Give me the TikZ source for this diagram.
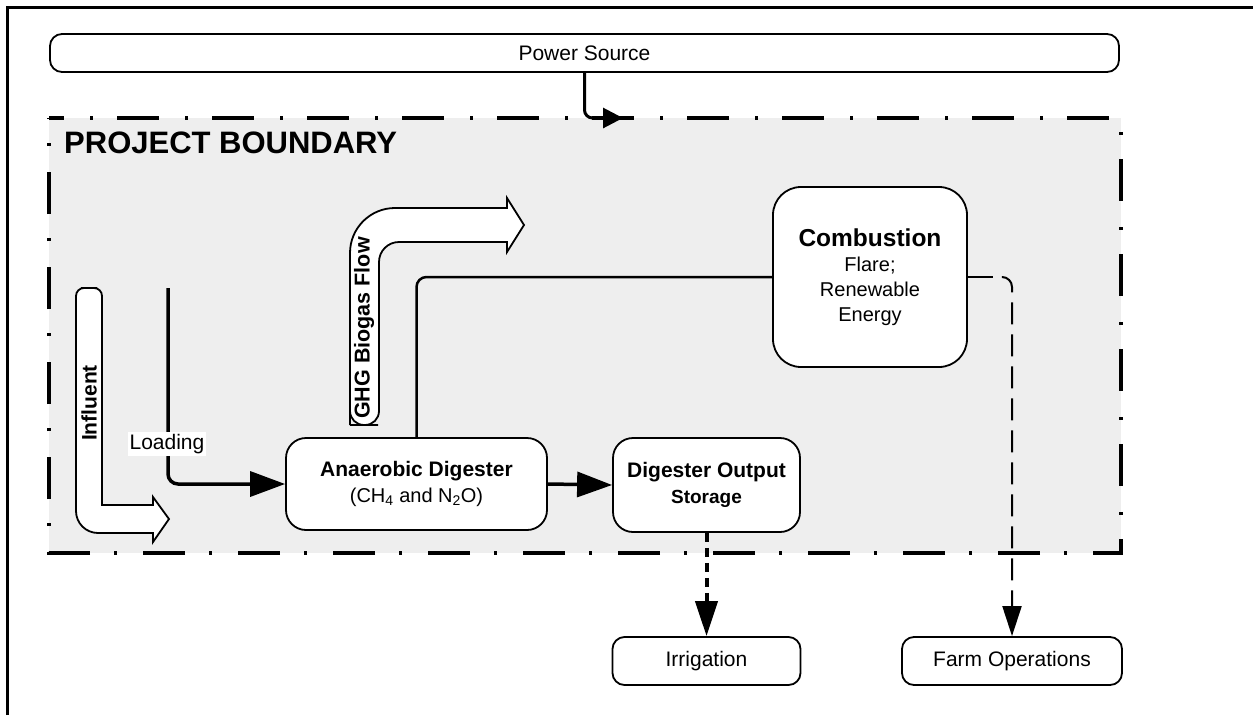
\documentclass[tikz,border=0pt]{standalone}
\usepackage{fontspec}
\setmainfont{Liberation Sans}
\usetikzlibrary{arrows.meta}
\definecolor{bndgray}{HTML}{EEEEEE}

\begin{document}
\begin{tikzpicture}[x=1pt, y=-1pt,
        box/.style={rectangle, draw=black, fill=white, line width=1.8pt, inner sep=0pt, align=center},
        flow/.style={draw=black, fill=white, line width=1.8pt},
        link/.style={black, line width=3.5pt},
        bigtip/.style={-{Triangle[length=35pt, width=25pt]}},
        txt/.style={font=\fontsize{21}{26}\selectfont}]
            \useasboundingbox (0,0) rectangle (1253,715);

            % Frame
            \draw[line width=3pt] (7,715) -- (7,7) -- (1253,7);

            % Project boundary
            \draw[line width=4.5pt, fill=bndgray, dash pattern=on 42pt off 26pt on 3pt off 24pt, dash phase=27pt]
                (49,118) -- (1121,118) -- (1121,553) -- (49,553) -- cycle;
            \node[anchor=west, inner sep=0pt, font=\bfseries\fontsize{31}{31}\selectfont] (bndlabel) at (64,143)
                {PROJECT BOUNDARY};

            % Power source
            \node[box, txt, minimum width=1069pt, minimum height=38pt, rounded corners=12pt] (power) at (584.5,53)
                {Power Source};
            \coordinate (pin) at (623,118);
            \draw[line width=3pt, rounded corners=8pt, -{Triangle[length=20pt, width=20pt]}] (power.south) |- (pin);

            % Influent
            \draw[flow] (89,288) [rounded corners=8pt] -- (102,288) -- (102,400) [sharp corners] -- (102,505)
                -- (153,505) -- (153,497) -- (169,519) -- (153,542) -- (153,533) -- (120,533)
                [rounded corners=22pt] -- (76,533) -- (76,400) [rounded corners=8pt] -- (76,288) -- cycle;
            \node[rotate=90, font=\bfseries\fontsize{21}{21}\selectfont] (influent) at (89,403) {Influent};

            % GHG biogas flow
            \draw[flow] (364,425) [rounded corners=14pt] -- (379,425) -- (379,380) [rounded corners=20pt] -- (379,242)
                -- (450,242) [sharp corners] -- (507,242) -- (507,252) -- (524,225) -- (507,198) -- (507,208)
                -- (450,208) [rounded corners=45pt] -- (350,208) -- (350,380) [rounded corners=14pt] -- (350,425) -- cycle;
            \node[rotate=90, font=\bfseries\fontsize{21.5}{21.5}\selectfont] (ghg) at (364,328) {GHG Biogas Flow};

            % Anaerobic digester
            \node[box, txt, minimum width=261pt, minimum height=92pt, rounded corners=20pt] (dig) at (416.5,484)
                {\textbf{Anaerobic Digester}\\ {\fontsize{20}{24}\selectfont (CH\textsubscript{4} and N\textsubscript{2}O)}};

            % Digester output storage
            \node[box, txt, minimum width=187pt, minimum height=94pt, rounded corners=20pt] (store) at (706.5,485)
                {\textbf{Digester Output}\\ {\bfseries\fontsize{19}{23}\selectfont Storage}};

            % Combustion
            \node[box, font=\fontsize{20}{25}\selectfont, minimum width=194pt, minimum height=180pt, rounded corners=28pt] (comb) at (870,277)
                {{\bfseries\fontsize{24.5}{29}\selectfont Combustion}\\ Flare;\\ Renewable\\ Energy};

            % End uses
            \node[box, txt, minimum width=188pt, minimum height=48pt, rounded corners=12pt] (irr) at (706.5,661) {Irrigation};
            \node[box, txt, minimum width=220pt, minimum height=48pt, rounded corners=12pt] (farm) at (1012,661) {Farm Operations};

            % Loading
            \coordinate (loadtop) at (168,288);
            \draw[link, rounded corners=10pt, bigtip] (loadtop) |- (dig.west);
            \node[txt, fill=white, inner sep=2pt] (loading) at (167,444) {Loading};

            % Digester to storage
            \draw[link, bigtip] (dig.east) -- (store.west);

            % Biogas to combustion
            \draw[line width=2.5pt, rounded corners=10pt] (dig.north) |- (comb.west);

            % Combustion to farm operations
            \coordinate (stub) at ([xshift=25pt]comb.east);
            \draw[line width=2.5pt] (comb.east) -- (stub);
            \draw[line width=2pt, dash pattern=on 22pt off 10pt, rounded corners=10pt, -{Triangle[length=30pt, width=19pt]}]
                ([xshift=10pt]stub) -| (farm.north);

            % Storage to irrigation
            \draw[line width=4pt, dash pattern=on 9pt off 6pt, -{Triangle[length=35pt, width=22pt]}]
                (store.south) -- (irr.north);
        \end{tikzpicture}
\end{document}
